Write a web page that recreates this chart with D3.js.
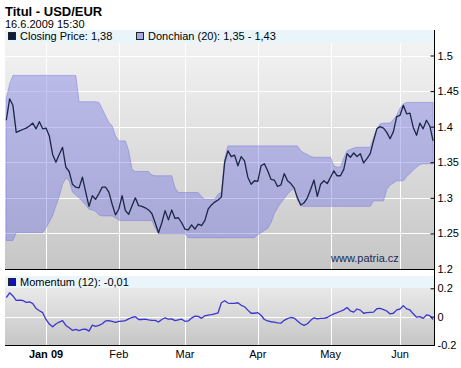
<!DOCTYPE html>
<html>
<head>
<meta charset="utf-8">
<script src="https://cdn.jsdelivr.net/npm/d3@7"></script>
<style>
  body { margin: 0; background: #fff; }
  text { font-family: "Liberation Sans", Arial, sans-serif; }
</style>
</head>
<body>
<div class="chart"></div>
<script>
// trading days from 16.12.2008 to 15.6.2009
const startDay = "2008-12-16";
const endDay = "2009-06-15";

// closing price, one value per trading day
const closeVals = [
  1.409, 1.439, 1.430, 1.392, 1.394, 1.396, 1.398, 1.401, 1.405, 1.397, 1.407, 1.397,
  1.398, 1.387, 1.361, 1.350, 1.361, 1.371, 1.343, 1.337, 1.319, 1.315, 1.314, 1.329,
  1.308, 1.288, 1.303, 1.298, 1.306, 1.315, 1.315, 1.308, 1.291, 1.276, 1.284, 1.303,
  1.282, 1.277, 1.289, 1.300, 1.289, 1.288, 1.286, 1.283, 1.278, 1.265, 1.251, 1.265,
  1.282, 1.269, 1.283, 1.271, 1.272, 1.265, 1.256, 1.255, 1.262, 1.256, 1.263, 1.261,
  1.268, 1.284, 1.290, 1.294, 1.297, 1.301, 1.350, 1.366, 1.358, 1.360, 1.345, 1.358,
  1.352, 1.329, 1.319, 1.324, 1.323, 1.345, 1.348, 1.338, 1.326, 1.325, 1.316, 1.318,
  1.334, 1.324, 1.320, 1.314, 1.300, 1.290, 1.293, 1.300, 1.312, 1.325, 1.302, 1.319,
  1.324, 1.320, 1.329, 1.338, 1.331, 1.331, 1.340, 1.362, 1.357, 1.363, 1.358, 1.362,
  1.349, 1.355, 1.362, 1.380, 1.397, 1.400, 1.398, 1.392, 1.383, 1.393, 1.414, 1.416,
  1.430, 1.418, 1.419, 1.399, 1.388, 1.405, 1.397, 1.409, 1.401, 1.380
];

// Donchian (20) upper and lower channel
const upperVals = [
  1.439, 1.460, 1.472, 1.472, 1.472, 1.472, 1.472, 1.472, 1.472, 1.472, 1.472, 1.472,
  1.472, 1.472, 1.472, 1.472, 1.472, 1.472, 1.472, 1.472, 1.472, 1.472, 1.435, 1.435,
  1.435, 1.435, 1.435, 1.435, 1.434, 1.425, 1.415, 1.406, 1.401, 1.387, 1.380, 1.380,
  1.380, 1.366, 1.340, 1.337, 1.337, 1.337, 1.337, 1.337, 1.332, 1.331, 1.331, 1.331,
  1.331, 1.331, 1.331, 1.314, 1.3075, 1.3075, 1.3075, 1.3075, 1.3075, 1.3075, 1.3075, 1.302,
  1.298, 1.298, 1.298, 1.298, 1.305, 1.308, 1.355, 1.373, 1.373, 1.373, 1.373, 1.373,
  1.373, 1.373, 1.373, 1.373, 1.373, 1.373, 1.373, 1.373, 1.373, 1.373, 1.373, 1.373,
  1.373, 1.373, 1.373, 1.373, 1.373, 1.366, 1.363, 1.361, 1.358, 1.357, 1.357, 1.357,
  1.357, 1.357, 1.357, 1.345, 1.343, 1.343, 1.356, 1.366, 1.368, 1.370, 1.371, 1.371,
  1.371, 1.371, 1.371, 1.385, 1.397, 1.404, 1.405, 1.405, 1.405, 1.410, 1.416, 1.426,
  1.432, 1.434, 1.434, 1.434, 1.434, 1.434, 1.434, 1.434, 1.434, 1.434
];
const lowerVals = [
  1.240, 1.240, 1.240, 1.251, 1.251, 1.251, 1.251, 1.251, 1.251, 1.251, 1.251, 1.251,
  1.258, 1.266, 1.275, 1.289, 1.302, 1.319, 1.328, 1.324, 1.308, 1.304, 1.300, 1.295,
  1.290, 1.284, 1.283, 1.281, 1.276, 1.2746, 1.2746, 1.2746, 1.2746, 1.272, 1.2686, 1.268,
  1.268, 1.268, 1.268, 1.268, 1.268, 1.268, 1.268, 1.268, 1.268, 1.258, 1.2497, 1.2497,
  1.2497, 1.2497, 1.2497, 1.2497, 1.2497, 1.2497, 1.2497, 1.244, 1.244, 1.244, 1.244, 1.244,
  1.244, 1.244, 1.244, 1.244, 1.244, 1.244, 1.244, 1.244, 1.244, 1.244, 1.244, 1.244,
  1.244, 1.244, 1.244, 1.244, 1.248, 1.251, 1.254, 1.257, 1.265, 1.278, 1.286, 1.293,
  1.299, 1.305, 1.310, 1.313, 1.297, 1.2887, 1.288, 1.288, 1.288, 1.288, 1.288, 1.288,
  1.288, 1.288, 1.288, 1.288, 1.288, 1.288, 1.288, 1.288, 1.288, 1.288, 1.288, 1.288,
  1.288, 1.288, 1.288, 1.2958, 1.2958, 1.2958, 1.2958, 1.312, 1.318, 1.321, 1.324, 1.324,
  1.324, 1.330, 1.334, 1.339, 1.343, 1.347, 1.348, 1.348, 1.348, 1.348
];

// Momentum (12)
const momVals = [
  0.135, 0.168, 0.146, 0.115, 0.116, 0.114, 0.101, 0.105, 0.092, 0.058, 0.042, 0.028,
  -0.020, -0.052, -0.072, -0.052, -0.038, -0.028, -0.062, -0.078, -0.096, -0.090, -0.098, -0.090,
  -0.088, -0.102, -0.060, -0.068, -0.062, -0.050, -0.030, -0.028, -0.034, -0.040, -0.034, -0.031,
  -0.028, -0.016, -0.006, 0.000, -0.020, -0.020, -0.017, -0.022, -0.026, -0.026, -0.038, -0.020,
  -0.008, -0.017, -0.016, -0.028, -0.022, -0.018, -0.033, -0.030, -0.010, 0.004, 0.002, -0.012,
  0.006, 0.010, 0.014, 0.020, 0.026, 0.098, 0.112, 0.096, 0.094, 0.094, 0.098, 0.080,
  0.070, 0.046, 0.024, 0.024, 0.028, 0.010, -0.020, -0.030, -0.036, -0.039, -0.044, -0.046,
  -0.026, -0.014, -0.006, -0.010, -0.030, -0.050, -0.062, -0.050, -0.026, -0.008, -0.016, -0.012,
  -0.012, -0.006, 0.008, 0.019, 0.028, 0.038, 0.048, 0.064, 0.040, 0.032, 0.054, 0.046,
  0.024, 0.028, 0.030, 0.032, 0.056, 0.058, 0.050, 0.040, 0.019, 0.024, 0.048, 0.054,
  0.078, 0.055, 0.047, 0.020, -0.004, 0.000, -0.012, 0.012, 0.007, -0.020
];

const priceTicks = [1.2, 1.25, 1.3, 1.35, 1.4, 1.45, 1.5];
const momTicks = [-0.2, 0, 0.2];
const monthTicks = ["2009-01-01", "2009-02-02", "2009-03-02", "2009-04-01", "2009-05-01", "2009-06-01"];
const monthLabels = ["Jan 09", "Feb", "Mar", "Apr", "May", "Jun"];

const titleText = "Titul - USD/EUR";
const stampText = "16.6.2009 15:30";
const closeLegend = "Closing Price: 1,38";
const donchLegend = "Donchian (20): 1,35 - 1,43";
const momLegend = "Momentum (12): -0,01";

// layout
const W = 461, H = 368;
const plotL = 5, plotR = 434;
const main = {top: 30, bottom: 269};
const mom = {top: 276, bottom: 345};
const legendH = 13;

const fmt = d3.timeFormat("%Y-%m-%d");
const parse = d3.timeParse("%Y-%m-%d");
const days = d3.timeDay.range(parse(startDay), d3.timeDay.offset(parse(endDay), 1))
    .filter(d => d.getDay() !== 0 && d.getDay() !== 6)
    .map(fmt);

const x = d3.scalePoint().domain(days).range([6.3, 433.1]);
const y = d3.scaleLinear().domain([1.2, 1.5]).range([269, 55.5]);
const yM = d3.scaleLinear().domain([-0.2, 0.2]).range([345, 288.3]);

const svg = d3.select(".chart").append("svg")
    .attr("width", W)
    .attr("height", H);

const defs = svg.append("defs");
let g1 = defs.append("linearGradient").attr("id", "bgMain").attr("x1", 0).attr("y1", 0).attr("x2", 0).attr("y2", 1);
g1.append("stop").attr("offset", "0%").attr("stop-color", "#f5f5f5");
g1.append("stop").attr("offset", "100%").attr("stop-color", "#c6c6c6");
let g2 = defs.append("linearGradient").attr("id", "bgMom").attr("x1", 0).attr("y1", 0).attr("x2", 0).attr("y2", 1);
g2.append("stop").attr("offset", "0%").attr("stop-color", "#f0f0f0");
g2.append("stop").attr("offset", "100%").attr("stop-color", "#c6c6c6");

// title
svg.append("text").attr("x", 5).attr("y", 15.5)
    .style("font-size", "13px").style("font-weight", "bold").attr("fill", "#000")
    .text(titleText);
svg.append("text").attr("x", 5).attr("y", 28)
    .style("font-size", "11px").attr("fill", "#000")
    .text(stampText);

// backgrounds
svg.append("rect").attr("x", plotL).attr("y", main.top).attr("width", plotR - plotL)
    .attr("height", main.bottom - main.top).attr("fill", "url(#bgMain)");
svg.append("rect").attr("x", plotL).attr("y", mom.top).attr("width", plotR - plotL)
    .attr("height", mom.bottom - mom.top).attr("fill", "url(#bgMom)");

// grid, main panel
let grid = svg.append("g").attr("stroke", "#fff").attr("stroke-width", 1);
grid.selectAll(".hg").data(priceTicks.filter(t => t > 1.2))
    .enter().append("line")
    .attr("x1", plotL).attr("x2", plotR)
    .attr("y1", d => Math.round(y(d)) + 0.5).attr("y2", d => Math.round(y(d)) + 0.5);
grid.selectAll(".vg").data(monthTicks)
    .enter().append("line")
    .attr("x1", d => Math.round(x(d)) + 0.5).attr("x2", d => Math.round(x(d)) + 0.5)
    .attr("y1", main.top).attr("y2", main.bottom);
// grid, momentum panel
grid.append("line")
    .attr("x1", plotL).attr("x2", plotR)
    .attr("y1", Math.round(yM(0)) + 0.5).attr("y2", Math.round(yM(0)) + 0.5);
grid.selectAll(".vgm").data(monthTicks)
    .enter().append("line")
    .attr("x1", d => Math.round(x(d)) + 0.5).attr("x2", d => Math.round(x(d)) + 0.5)
    .attr("y1", mom.top).attr("y2", mom.bottom);

// Donchian channel
const area = d3.area()
    .x((d, i) => x(days[i]))
    .y0((d, i) => y(lowerVals[i]))
    .y1((d, i) => y(upperVals[i]));
svg.append("path").datum(upperVals)
    .attr("d", area)
    .attr("fill", "rgba(120,120,228,0.43)")
    .attr("stroke", "rgba(128,128,225,0.55)")
    .attr("stroke-width", 1);

// closing price
const line = d3.line().x((d, i) => x(days[i])).y(d => y(d));
svg.append("path").datum(closeVals)
    .attr("d", line)
    .attr("fill", "none")
    .attr("stroke", "#1b2747")
    .attr("stroke-width", 1.3)
    .attr("stroke-linejoin", "round");

// momentum
const mline = d3.line().x((d, i) => x(days[i])).y(d => yM(d));
svg.append("path").datum(momVals)
    .attr("d", mline)
    .attr("fill", "none")
    .attr("stroke", "#3a36cf")
    .attr("stroke-width", 1.3)
    .attr("stroke-linejoin", "round");

// legend bands
svg.append("rect").attr("x", plotL).attr("y", main.top).attr("width", plotR - plotL)
    .attr("height", legendH).attr("fill", "#eaf4fb");
svg.append("rect").attr("x", plotL).attr("y", mom.top).attr("width", plotR - plotL)
    .attr("height", 12).attr("fill", "#eaf4fb");

function legendItem(lx, ly, color, label) {
    svg.append("rect").attr("x", lx + 0.5).attr("y", ly - 7.5).attr("width", 7).attr("height", 7)
        .attr("fill", color).attr("stroke", "#222").attr("stroke-width", 1);
    svg.append("text").attr("x", lx + 12).attr("y", ly)
        .style("font-size", "11px").attr("fill", "#000").text(label);
}
legendItem(8, 40, "#0c1a3c", closeLegend);
legendItem(136, 40, "#a9a9ea", donchLegend);
legendItem(8, 286, "#1010c8", momLegend);

// watermark
svg.append("text").attr("x", 331).attr("y", 262)
    .style("font-size", "11px").attr("fill", "#1b2a55").text("www.patria.cz");

// bottom borders
svg.append("line").attr("x1", plotL).attr("x2", plotR).attr("y1", main.bottom + 0.5).attr("y2", main.bottom + 0.5)
    .attr("stroke", "#000");
svg.append("line").attr("x1", plotL).attr("x2", plotR).attr("y1", mom.bottom + 0.5).attr("y2", mom.bottom + 0.5)
    .attr("stroke", "#000");

// right axes
let yAxis = svg.append("g")
    .attr("transform", "translate(" + (plotR + 0.5) + ",0)")
    .call(d3.axisRight(y).tickValues(priceTicks).tickSize(-4).tickPadding(3).tickFormat(d => String(d)));
let mAxis = svg.append("g")
    .attr("transform", "translate(" + (plotR + 0.5) + ",0)")
    .call(d3.axisRight(yM).tickValues(momTicks).tickSize(-4).tickPadding(3).tickFormat(d => String(d)));
[yAxis, mAxis].forEach(a => {
    a.select(".domain").remove();
    a.selectAll("text").style("font-size", "11px").attr("fill", "#000")
        .style("font-family", "'Liberation Sans', Arial, sans-serif");
    a.selectAll("line").attr("stroke", "#000");
});
svg.append("line").attr("x1", plotR + 0.5).attr("x2", plotR + 0.5)
    .attr("y1", main.top).attr("y2", mom.bottom + 1).attr("stroke", "#000");

// month labels
svg.selectAll(".mlab").data(monthTicks)
    .enter().append("text")
    .attr("x", d => x(d))
    .attr("y", 358)
    .attr("text-anchor", "middle")
    .style("font-size", "11px")
    .style("font-weight", (d, i) => i === 0 ? "bold" : "normal")
    .attr("fill", "#000")
    .text((d, i) => monthLabels[i]);
</script>
</body>
</html>
